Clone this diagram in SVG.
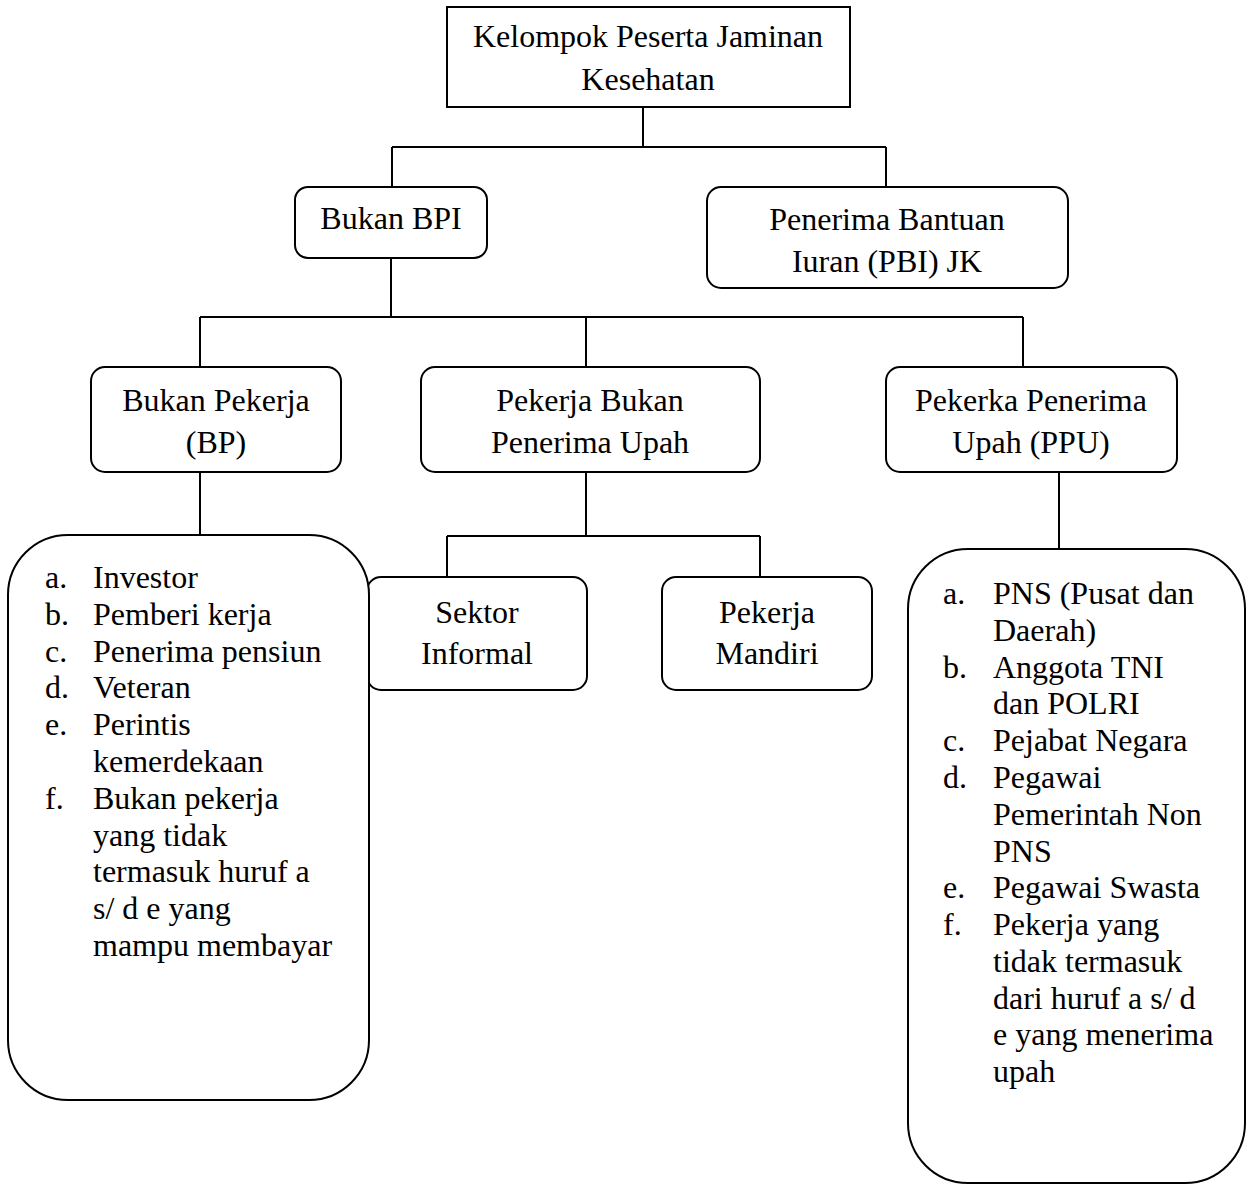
<svg xmlns="http://www.w3.org/2000/svg" width="1247" height="1185" viewBox="0 0 1247 1185">
<style>
.box{fill:#fff;stroke:#000;stroke-width:2}
.ln{fill:none;stroke:#000;stroke-width:2}
text{font-family:"Liberation Serif","Times New Roman",serif;font-size:32px;fill:#000}
.c{text-anchor:middle}
</style>
<rect width="1247" height="1185" fill="#fff"/>
<g id="connectors">
<path class="ln" d="M643,107 V147 M392,147 H886 M392,147 V187 M886,147 V187"/>
<path class="ln" d="M391,258 V317 M200,317 H1023 M200,317 V367 M586,317 V367 M1023,317 V367"/>
<path class="ln" d="M200,472 V535"/>
<path class="ln" d="M586,472 V536 M447,536 H760 M447,536 V577 M760,536 V577"/>
<path class="ln" d="M1059,472 V549"/>
</g>
<g id="root">
<rect class="box" x="447" y="7" width="403" height="100"/>
<text class="c" x="648" y="47">Kelompok Peserta Jaminan</text>
<text class="c" x="648" y="90">Kesehatan</text>
</g>
<g id="bukan-bpi">
<rect class="box" x="295" y="187" width="192" height="71" rx="13"/>
<text class="c" x="391" y="229">Bukan BPI</text>
</g>
<g id="pbi">
<rect class="box" x="707" y="187" width="361" height="101" rx="14"/>
<text class="c" x="887" y="230">Penerima Bantuan</text>
<text class="c" x="887" y="272">Iuran (PBI) JK</text>
</g>
<g id="bukan-pekerja">
<rect class="box" x="91" y="367" width="250" height="105" rx="14"/>
<text class="c" x="216" y="411">Bukan Pekerja</text>
<text class="c" x="216" y="453">(BP)</text>
</g>
<g id="pekerja-bukan-penerima-upah">
<rect class="box" x="421" y="367" width="339" height="105" rx="14"/>
<text class="c" x="590" y="411">Pekerja Bukan</text>
<text class="c" x="590" y="453">Penerima Upah</text>
</g>
<g id="pekerja-penerima-upah">
<rect class="box" x="886" y="367" width="291" height="105" rx="14"/>
<text class="c" x="1031" y="411">Pekerka Penerima</text>
<text class="c" x="1031" y="453">Upah (PPU)</text>
</g>
<g id="sektor-informal">
<rect class="box" x="367" y="577" width="220" height="113" rx="14"/>
<text class="c" x="477" y="623">Sektor</text>
<text class="c" x="477" y="664">Informal</text>
</g>
<g id="pekerja-mandiri">
<rect class="box" x="662" y="577" width="210" height="113" rx="14"/>
<text class="c" x="767" y="623">Pekerja</text>
<text class="c" x="767" y="664">Mandiri</text>
</g>
<g id="bp-list">
<rect class="box" x="8" y="535" width="361" height="565" rx="60"/>
<text x="45" y="588">a.</text><text x="93" y="588">Investor</text>
<text x="45" y="625">b.</text><text x="93" y="625">Pemberi kerja</text>
<text x="45" y="662">c.</text><text x="93" y="662">Penerima pensiun</text>
<text x="45" y="698">d.</text><text x="93" y="698">Veteran</text>
<text x="45" y="735">e.</text><text x="93" y="735">Perintis</text>
<text x="93" y="772">kemerdekaan</text>
<text x="45" y="809">f.</text><text x="93" y="809">Bukan pekerja</text>
<text x="93" y="846">yang tidak</text>
<text x="93" y="882">termasuk huruf a</text>
<text x="93" y="919">s/ d e yang</text>
<text x="93" y="956">mampu membayar</text>
</g>
<g id="ppu-list">
<rect class="box" x="908" y="549" width="337" height="634" rx="60"/>
<text x="943" y="604">a.</text><text x="993" y="604">PNS (Pusat dan</text>
<text x="993" y="641">Daerah)</text>
<text x="943" y="678">b.</text><text x="993" y="678">Anggota TNI</text>
<text x="993" y="714">dan POLRI</text>
<text x="943" y="751">c.</text><text x="993" y="751">Pejabat Negara</text>
<text x="943" y="788">d.</text><text x="993" y="788">Pegawai</text>
<text x="993" y="825">Pemerintah Non</text>
<text x="993" y="862">PNS</text>
<text x="943" y="898">e.</text><text x="993" y="898">Pegawai Swasta</text>
<text x="943" y="935">f.</text><text x="993" y="935">Pekerja yang</text>
<text x="993" y="972">tidak termasuk</text>
<text x="993" y="1009">dari huruf a s/ d</text>
<text x="993" y="1045">e yang menerima</text>
<text x="993" y="1082">upah</text>
</g>
</svg>
